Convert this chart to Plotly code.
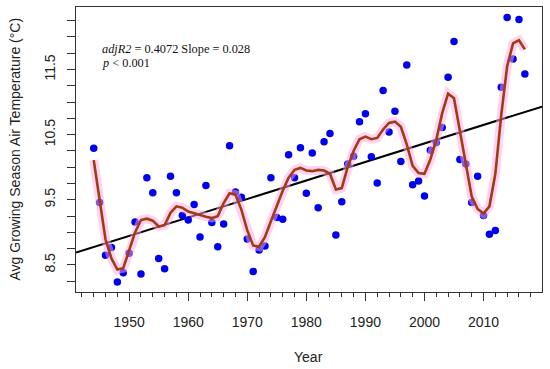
import numpy as np
import plotly.graph_objects as go

years = list(range(1944, 2018))
temps = [10.29, 9.46, 8.65, 8.77, 8.24, 8.38, 8.68, 9.16, 8.36, 9.84,
         9.61, 8.60, 8.44, 9.86, 9.61, 9.26, 9.19, 9.43, 8.93, 9.72,
         9.15, 8.78, 9.13, 10.33, 9.62, 9.54, 8.90, 8.40, 8.73, 8.79,
         9.84, 9.23, 9.20, 10.19, 9.84, 10.30, 9.60, 10.22, 9.38, 10.39,
         10.52, 8.96, 9.47, 10.05, 10.17, 10.70, 10.82, 10.16, 9.76, 11.18,
         10.54, 10.86, 10.09, 11.57, 9.73, 9.79, 9.56, 10.26, 10.38, 10.61,
         11.38, 11.93, 10.12, 10.05, 9.46, 9.86, 9.26, 8.97, 9.03, 11.23,
         12.30, 11.66, 12.27, 11.43]
smooth = [10.11, 9.47, 8.89, 8.60, 8.43, 8.45, 8.72, 9.00, 9.19, 9.21,
          9.18, 9.09, 9.11, 9.30, 9.40, 9.38, 9.32, 9.29, 9.27, 9.24,
          9.22, 9.25, 9.45, 9.60, 9.58, 9.35, 9.03, 8.80, 8.78, 8.93,
          9.17, 9.42, 9.64, 9.84, 9.96, 9.99, 9.95, 9.94, 9.96, 9.95,
          9.90, 9.66, 9.68, 10.00, 10.25, 10.43, 10.47, 10.43, 10.45, 10.58,
          10.68, 10.70, 10.62, 10.35, 10.02, 9.91, 9.90, 10.12, 10.42, 10.83,
          11.13, 11.06, 10.55, 10.08, 9.55, 9.36, 9.29, 9.40, 9.90, 10.80,
          11.55, 11.90, 11.95, 11.81]
trend_slope = 0.0284
trend_intercept_1941 = 8.69
x_range = [1941.0, 2019.9]
y_range = [8.085, 12.46]

x_major = [1950, 1960, 1970, 1980, 1990, 2000, 2010]
x_minor = list(range(1942, 2019, 2))
y_ticks = [8.25 + 0.25 * i for i in range(17)]
y_labels = {8.5: "8.5", 9.5: "9.5", 10.5: "10.5", 11.5: "11.5"}
y_ticktext = [y_labels.get(round(v, 2), "") for v in y_ticks]

trend_x = np.array(x_range)
trend_y = trend_intercept_1941 + trend_slope * (trend_x - 1941.0)

fig = go.Figure()
fig.add_trace(go.Scatter(x=trend_x, y=trend_y, mode="lines",
                         line=dict(color="black", width=2), hoverinfo="skip"))
fig.add_trace(go.Scatter(x=years, y=temps, mode="markers",
                         marker=dict(color="#0000EE", size=7.5, line=dict(width=0))))
fig.add_trace(go.Scatter(x=years, y=smooth, mode="lines",
                         line=dict(color="rgba(255,170,230,0.5)", width=9),
                         hoverinfo="skip"))
fig.add_trace(go.Scatter(x=years, y=smooth, mode="lines",
                         line=dict(color="#A33A12", width=2.6)))

axis_font = dict(family="Liberation Sans, Arial, sans-serif", size=14, color="#222")
fig.update_layout(
    width=550, height=369,
    margin=dict(l=76, r=8, t=7, b=77),
    paper_bgcolor="white", plot_bgcolor="white",
    showlegend=False,
    font=axis_font,
)
fig.update_xaxes(range=x_range, showgrid=False, zeroline=False, automargin=False,
                 showline=True, mirror=True, linecolor="#333", linewidth=1.3,
                 ticks="outside", ticklen=8, tickwidth=1, tickcolor="#333",
                 tickvals=x_major, ticktext=[str(v) for v in x_major],
                 ticklabelstandoff=9, tickfont=axis_font,
                 minor=dict(tickvals=x_minor, ticks="outside", ticklen=4,
                            tickwidth=1, tickcolor="#333"))
fig.update_yaxes(range=y_range, showgrid=False, zeroline=False, automargin=False,
                 showline=True, mirror=True, linecolor="#333", linewidth=1.3,
                 ticks="outside", ticklen=8, tickwidth=1, tickcolor="#333",
                 tickvals=y_ticks, ticktext=y_ticktext, tickangle=-90,
                 ticklabelstandoff=6, tickfont=axis_font)

serif = dict(family="Liberation Serif, Times New Roman, serif", size=12.3, color="#111")
fig.add_annotation(xref="paper", yref="paper", x=0.0515, y=0.853,
                   xanchor="left", yanchor="middle", showarrow=False,
                   text="<i>adjR2</i> = 0.4072 Slope = 0.028", font=serif)
fig.add_annotation(xref="paper", yref="paper", x=0.0515, y=0.805,
                   xanchor="left", yanchor="middle", showarrow=False,
                   text="<i>p</i> &lt; 0.001", font=serif)
fig.add_annotation(xref="paper", yref="paper", x=0.498, y=-0.228,
                   xanchor="center", yanchor="middle", showarrow=False,
                   text="Year", font=axis_font)
fig.add_annotation(xref="paper", yref="paper", x=-0.133, y=0.5,
                   xanchor="center", yanchor="middle", showarrow=False,
                   textangle=-90,
                   text="Avg Growing Season Air Temperature (°C)", font=axis_font)

fig.write_html("out.html", config={"displayModeBar": False},
               post_script="document.body.style.margin='0';document.body.style.overflow='hidden';")
